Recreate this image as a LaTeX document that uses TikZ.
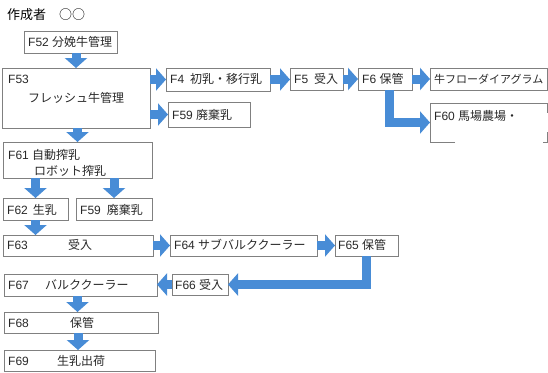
\documentclass[tikz,border=0pt]{standalone}
\usepackage{fontspec}
\setmainfont{Liberation Sans}
\newfontfamily\jp{Noto Sans CJK JP}
\usetikzlibrary{arrows.meta}
\definecolor{arrowblue}{RGB}{72,140,214}
\definecolor{boxgray}{RGB}{128,128,128}
\definecolor{ink}{RGB}{40,40,40}
\begin{document}
\begin{tikzpicture}[x=1pt,y=-1pt,
  box/.style={draw=boxgray, line width=0.8pt, inner sep=0pt, outer sep=0pt, anchor=north west},
  lbl/.style={anchor=west, inner sep=0pt, text=ink, font=\fontsize{12}{14}\selectfont},
  fat/.style={draw=arrowblue, line width=9pt, -{Triangle[width=22pt,length=10pt]}, line join=miter}]
\useasboundingbox (0,0) rectangle (548,372);
% boxes
\node[box, minimum width=93pt,  minimum height=22pt] (f52)  at (24,31)  {};
\node[box, minimum width=148pt, minimum height=60pt] (f53)  at (2,68)   {};
\node[box, minimum width=104pt, minimum height=23pt] (f4)   at (166,68) {};
\node[box, minimum width=82pt,  minimum height=25pt] (f59a) at (168,102){};
\node[box, minimum width=53pt,  minimum height=22pt] (f5)   at (290,68) {};
\node[box, minimum width=54pt,  minimum height=22pt] (f6)   at (358,68) {};
\node[box, minimum width=117pt, minimum height=22pt] (flow) at (430,68) {};
\node[box, draw=none, minimum width=117pt, minimum height=39pt] (f60) at (430,103) {};
\draw[draw=boxgray, line width=0.8pt] ([xshift=25pt]f60.south west) -- (f60.south west) -- (f60.north west) -- (f60.north east) -- ([yshift=-10pt]f60.north east);
\draw[draw=boxgray, line width=0.8pt] ([yshift=10pt]f60.south east) -- (f60.south east) -- ([xshift=-4pt]f60.south east);
\node[box, minimum width=149pt, minimum height=36pt] (f61)  at (3,142)  {};
\node[box, minimum width=65pt,  minimum height=22pt] (f62)  at (3,198)  {};
\node[box, minimum width=76pt,  minimum height=22pt] (f59b) at (76,198) {};
\node[box, minimum width=150pt, minimum height=21pt] (f63)  at (3,235)  {};
\node[box, minimum width=147pt, minimum height=21pt] (f64)  at (170,235){};
\node[box, minimum width=63pt,  minimum height=21pt] (f65)  at (335,235){};
\node[box, minimum width=56pt,  minimum height=21pt] (f66)  at (172,274){};
\node[box, minimum width=153pt, minimum height=22pt] (f67)  at (4,274)  {};
\node[box, minimum width=154pt, minimum height=21pt] (f68)  at (4,312)  {};
\node[box, minimum width=151pt, minimum height=21pt] (f69)  at (4,350)  {};
% arrows
\draw[fat] (f52.south -| f53.north) -- (f53.north);
\draw[fat] (f53.east |- f4.west) -- (f4.west);
\draw[fat] (f53.east |- f59a.west) -- (f59a.west);
\draw[fat] (f4.east) -- (f4.east -| f5.west);
\draw[fat] (f5.east) -- (f6.west);
\draw[fat] (f6.east) -- (flow.west);
\draw[fat] ([xshift=4pt]f6.south) |- (f60.west);
\draw[fat] (f53.south -| f61.north) -- (f61.north);
\draw[fat] (f61.south -| f62.north) -- (f62.north);
\draw[fat] (f61.south -| f59b.north) -- (f59b.north);
\draw[fat] (f62.south) -- (f62.south |- f63.north);
\draw[fat] (f63.east) -- (f63.east -| f64.west);
\draw[fat] (f64.east) -- (f65.west);
\draw[fat] (f65.south) |- (f66.east);
\draw[fat] (f66.west) -- (f66.west -| f67.east);
\draw[fat] ([xshift=-3pt]f67.south) -- ([xshift=-3pt]f67.south |- f68.north);
\draw[fat] ([xshift=-3pt]f68.south) -- ([xshift=-3pt]f68.south |- f69.north);
% labels
\node[lbl, font=\fontsize{13}{15}\selectfont, text=black] (title) at (7,15) {\jp 作成者　○○};
\node[lbl] (t52) at (28,42) {F52 {\jp 分娩牛管理}};
\node[lbl] (t53a) at (8,79) {F53};
\node[lbl] (t53b) at (28,98) {\jp フレッシュ牛管理};
\node[lbl] (t4) at (170,79) {F4\hspace{6pt}{\jp 初乳・移行乳}};
\node[lbl] (t5) at (294,79) {F5\hspace{6pt}{\jp 受入}};
\node[lbl] (t6) at (362,79) {F6 {\jp 保管}};
\node[lbl, font=\fontsize{11}{13}\selectfont] (tflow) at (434,79) {\jp 牛フローダイアグラム};
\node[lbl] (t59a) at (172,115) {F59 {\jp 廃棄乳}};
\node[lbl] (t60) at (434,116) {F60 {\jp 馬場農場・}};
\node[lbl] (t61a) at (8,155) {F61 {\jp 自動搾乳}};
\node[lbl] (t61b) at (34,171) {\jp ロボット搾乳};
\node[lbl] (t62) at (7,210) {F62\hspace{5pt}{\jp 生乳}};
\node[lbl] (t59b) at (80,210) {F59\hspace{6pt}{\jp 廃棄乳}};
\node[lbl] (t63a) at (7,245) {F63};
\node[lbl] (t63b) at (68,245) {\jp 受入};
\node[lbl] (t64) at (174,245) {F64 {\jp サブバルククーラー}};
\node[lbl] (t65) at (338,245) {F65 {\jp 保管}};
\node[lbl] (t66) at (175,285) {F66 {\jp 受入}};
\node[lbl] (t67a) at (8,285) {F67};
\node[lbl] (t67b) at (45,285) {\jp バルククーラー};
\node[lbl] (t68a) at (8,323) {F68};
\node[lbl] (t68b) at (70,323) {\jp 保管};
\node[lbl] (t69a) at (8,361) {F69};
\node[lbl] (t69b) at (57,361) {\jp 生乳出荷};
\end{tikzpicture}
\end{document}
